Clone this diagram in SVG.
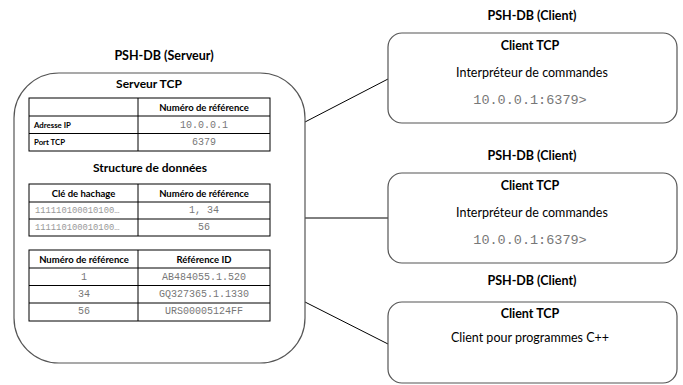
<svg xmlns="http://www.w3.org/2000/svg" width="683" height="385" viewBox="0 0 683 385">
<style>
  .t{font-family:Lato,"Liberation Sans",sans-serif;fill:#000;text-anchor:middle;dominant-baseline:central}
  .b{font-weight:bold}
  .m{font-family:"Liberation Mono","DejaVu Sans Mono",monospace;fill:#777;dominant-baseline:central}
  .box{fill:#fff;stroke:#555;stroke-width:1.2}
  .tbl{fill:none;stroke:#000;stroke-width:1}
  .con{stroke:#000;stroke-width:1;fill:none}
</style>
<rect width="683" height="385" fill="#fff"/>
<g id="connectors">
  <line class="con" x1="305" y1="122" x2="388" y2="79"/>
  <line class="con" x1="305" y1="218" x2="388" y2="218"/>
  <line class="con" x1="305" y1="302" x2="388" y2="344"/>
</g>
<g id="server">
  <text class="t b" x="164" y="55" font-size="12.5">PSH-DB (Serveur)</text>
  <rect class="box" x="14" y="73" width="291" height="290" rx="45" ry="45"/>
  <text class="t b" x="149" y="83" font-size="12">Serveur TCP</text>
  <g id="table-tcp">
    <rect class="tbl" x="29" y="98" width="241" height="53"/>
    <line class="tbl" x1="138" y1="98" x2="138" y2="151"/>
    <line class="tbl" x1="29" y1="116" x2="270" y2="116"/>
    <line class="tbl" x1="29" y1="133.5" x2="270" y2="133.5"/>
    <text class="t b" x="204" y="107" font-size="9.5">Numéro de référence</text>
    <text class="t b" x="34" y="125" font-size="7.8" style="text-anchor:start">Adresse IP </text>
    <text class="t b" x="34" y="142" font-size="7.8" style="text-anchor:start">Port TCP </text>
    <text class="m" x="204" y="125" font-size="10" text-anchor="middle">10.0.0.1</text>
    <text class="m" x="204" y="142" font-size="10" text-anchor="middle">6379</text>
  </g>
  <text class="t b" x="150" y="167" font-size="12">Structure de données</text>
  <g id="table-hash">
    <rect class="tbl" x="29" y="184" width="241" height="52"/>
    <line class="tbl" x1="138" y1="184" x2="138" y2="236"/>
    <line class="tbl" x1="29" y1="202" x2="270" y2="202"/>
    <line class="tbl" x1="29" y1="219" x2="270" y2="219"/>
    <text class="t b" x="83.5" y="193" font-size="9.5">Clé de hachage</text>
    <text class="t b" x="204" y="193" font-size="9.5">Numéro de référence</text>
    <text class="m" x="35" y="210.5" font-size="8.8" style="fill:#999">111110100010100…</text>
    <text class="m" x="35" y="227.5" font-size="8.8" style="fill:#999">111110100010100…</text>
    <text class="m" x="204" y="210.5" font-size="10" text-anchor="middle">1, 34</text>
    <text class="m" x="204" y="227.5" font-size="10" text-anchor="middle">56</text>
  </g>
  <g id="table-ref">
    <rect class="tbl" x="29" y="250" width="241" height="71"/>
    <line class="tbl" x1="138" y1="250" x2="138" y2="321"/>
    <line class="tbl" x1="29" y1="268" x2="270" y2="268"/>
    <line class="tbl" x1="29" y1="285.5" x2="270" y2="285.5"/>
    <line class="tbl" x1="29" y1="303" x2="270" y2="303"/>
    <text class="t b" x="84" y="259" font-size="9.5">Numéro de référence</text>
    <text class="t b" x="204" y="259" font-size="9.5">Référence ID</text>
    <text class="m" x="84" y="277" font-size="10" text-anchor="middle">1</text>
    <text class="m" x="84" y="294" font-size="10" text-anchor="middle">34</text>
    <text class="m" x="84" y="311.5" font-size="10" text-anchor="middle">56</text>
    <text class="m" x="204" y="277" font-size="10" text-anchor="middle">AB484055.1.520</text>
    <text class="m" x="204" y="294" font-size="10" text-anchor="middle">GQ327365.1.1330</text>
    <text class="m" x="204" y="311.5" font-size="10" text-anchor="middle">URS00005124FF</text>
  </g>
</g>
<g id="client1">
  <text class="t b" x="532" y="15" font-size="12.5">PSH-DB (Client)</text>
  <rect class="box" x="388" y="33" width="289" height="90" rx="14" ry="14"/>
  <text class="t b" x="530" y="45" font-size="12.5">Client TCP</text>
  <text class="t" x="532" y="72" font-size="12.5">Interpréteur de commandes </text>
  <text class="m" x="530" y="100" font-size="13.5" text-anchor="middle">10.0.0.1:6379&gt;</text>
</g>
<g id="client2">
  <text class="t b" x="532" y="155" font-size="12.5">PSH-DB (Client)</text>
  <rect class="box" x="388" y="173" width="289" height="90" rx="14" ry="14"/>
  <text class="t b" x="530" y="185" font-size="12.5">Client TCP</text>
  <text class="t" x="532" y="212" font-size="12.5">Interpréteur de commandes </text>
  <text class="m" x="530" y="240" font-size="13.5" text-anchor="middle">10.0.0.1:6379&gt;</text>
</g>
<g id="client3">
  <text class="t b" x="532" y="280" font-size="12.5">PSH-DB (Client)</text>
  <rect class="box" x="388" y="302" width="289" height="81" rx="14" ry="14"/>
  <text class="t b" x="530" y="313" font-size="12.5">Client TCP</text>
  <text class="t" x="530" y="337" font-size="12.5">Client pour programmes C++</text>
</g>
</svg>
